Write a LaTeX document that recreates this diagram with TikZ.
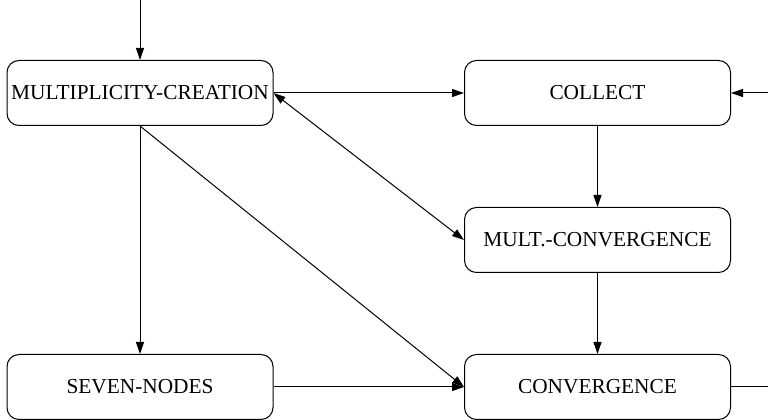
\documentclass[tikz,border=0pt]{standalone}
\usepackage{fontspec}
\setmainfont{Liberation Serif}
\usetikzlibrary{arrows.meta}

\begin{document}
\begin{tikzpicture}[
  x=0.75pt, y=-0.75pt,
  every node/.style={font=\fontsize{16}{19}\selectfont},
  state/.style={draw, line width=0.75pt, rounded corners=9pt,
    minimum width=199.5pt, minimum height=48.75pt, inner sep=0pt},
  tip/.style={Triangle[length=9pt, width=6pt]},
  flow/.style={line width=0.75pt, -{Triangle[length=9pt, width=6pt]}},
  both/.style={line width=0.75pt, {Triangle[length=9pt, width=6pt]}-{Triangle[length=9pt, width=6pt]}}
]
\useasboundingbox (0,0) rectangle (768,420);

% states
\node[state] (mc)   at (140,93)  {MULTIPLICITY-CREATION};
\node[state] (col)  at (597.5,93)  {COLLECT};
\node[state] (mcv)  at (597.5,240) {MULT.-CONVERGENCE};
\node[state] (sev)  at (140,387) {SEVEN-NODES};
\node[state] (conv) at (597.5,387) {CONVERGENCE};

% free ends at the border
\coordinate (in1)  at (140,0);
\coordinate (in2)  at (768,93);
\coordinate (out1) at (768,387);

% transitions
\draw[flow] (in1) -- (mc.north);
\draw[flow] (in2) -- (col.east);
\draw[flow] (mc.east) -- (col.west);
\draw[both] (mc.east) -- (mcv.west);
\draw[flow] (col.south) -- (mcv.north);
\draw[flow] (mc.south) -- (sev.north);
\draw[flow] (mc.south) -- (conv.west);
\draw[flow] (sev.east) -- (conv.west);
\draw[flow] (mcv.south) -- (conv.north);
\draw[line width=0.75pt] (conv.east) -- (out1);
\end{tikzpicture}
\end{document}
